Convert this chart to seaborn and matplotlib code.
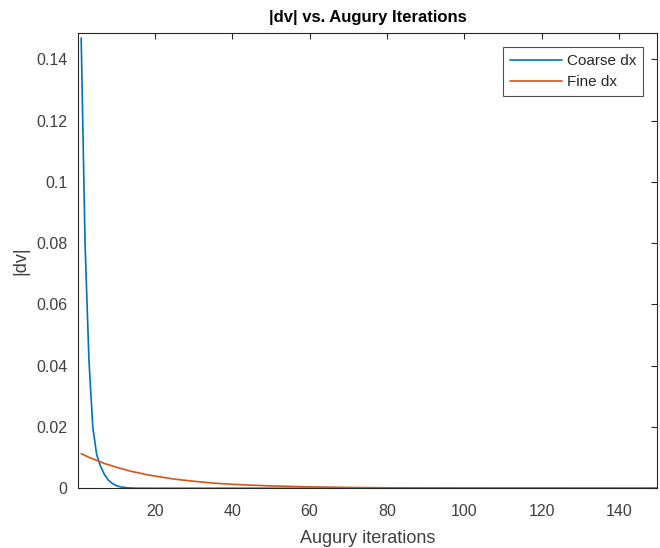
import matplotlib
matplotlib.use("Agg")
import matplotlib.pyplot as plt
import seaborn as sns
import pandas as pd

# Data
coarse_iter = [1, 2, 3, 4, 5, 6, 7, 8, 9, 10, 11, 12, 13, 14, 15, 16, 17, 18, 19, 20,
               30, 40, 50, 60, 70, 80, 90, 100, 110, 120, 130, 140, 150]
coarse_dv = [0.147, 0.080, 0.042, 0.020, 0.011, 0.0072, 0.0045, 0.0027, 0.0016, 0.0009,
             0.0005, 0.0003, 0.00015, 0.00008, 0.00004, 0.00002, 0.00001, 0.000005,
             0.000003, 0.000001, 0.0, 0.0, 0.0, 0.0, 0.0, 0.0, 0.0, 0.0, 0.0, 0.0,
             0.0, 0.0, 0.0]

fine_iter = [1, 2, 3, 4, 5, 6, 7, 8, 9, 10, 12, 14, 16, 18, 20, 25, 30, 35, 40, 45, 50,
             60, 70, 80, 90, 100, 110, 120, 130, 140, 150]
fine_dv = [0.0113, 0.0107, 0.0101, 0.0096, 0.0091, 0.0086, 0.0081, 0.0077, 0.0073, 0.0069,
           0.0062, 0.0055, 0.0050, 0.0044, 0.0040, 0.0030, 0.0023, 0.0017, 0.0013, 0.0010,
           0.00078, 0.00045, 0.00026, 0.00016, 0.00009, 0.00005, 0.00003, 0.00002,
           0.00001, 0.000006, 0.000003]

series_names = ["Coarse dx", "Fine dx"]
colors = ["#0072BD", "#D95319"]
y_ticks = [0, 0.02, 0.04, 0.06, 0.08, 0.1, 0.12, 0.14]
y_tick_labels = ["0", "0.02", "0.04", "0.06", "0.08", "0.1", "0.12", "0.14"]
x_ticks = [20, 40, 60, 80, 100, 120, 140]

df = pd.concat([
    pd.DataFrame({"iter": coarse_iter, "dv": coarse_dv, "series": series_names[0]}),
    pd.DataFrame({"iter": fine_iter, "dv": fine_dv, "series": series_names[1]}),
])

sns.set_style("white")
plt.rcParams["font.family"] = ["Liberation Sans", "DejaVu Sans"]
txt = "#262626"
lbl = "#404040"

fig = plt.figure(figsize=(6.6, 5.48), dpi=100)
ax = fig.add_axes([0.1186, 0.109, 0.995 - 0.1186, 0.939 - 0.109])

sns.lineplot(data=df, x="iter", y="dv", hue="series", hue_order=series_names,
             palette=colors, ax=ax, linewidth=1.2, legend=True)

ax.set_xlim(0.25, 149.7)
ax.set_ylim(0, 0.1485)
ax.set_xticks(x_ticks)
ax.set_xticklabels([str(t) for t in x_ticks])
ax.set_yticks(y_ticks)
ax.set_yticklabels(y_tick_labels)

for s in ax.spines.values():
    s.set_visible(True)
    s.set_color(txt)
    s.set_linewidth(0.8)

ax.tick_params(axis="both", direction="in", length=4, width=0.8, colors=txt,
               labelsize=11.5, top=True, right=True, labelcolor=lbl)
ax.tick_params(axis="x", pad=11)
ax.tick_params(axis="y", pad=8)

ax.set_xlabel("Augury iterations", fontsize=13, color=lbl, labelpad=8)
ax.set_ylabel("|dv|", fontsize=13, color=lbl, labelpad=5)
ax.set_title("|dv| vs. Augury Iterations", fontsize=12, fontweight="bold",
             color="black", pad=8)

handles, labels = ax.get_legend_handles_labels()
leg = ax.legend(handles, labels, loc="upper right", fontsize=11, frameon=True,
                fancybox=False, edgecolor=txt, borderpad=0.45, handlelength=3.4,
                handletextpad=0.3, labelspacing=0.45, borderaxespad=0.9)
leg.get_frame().set_linewidth(0.8)
for t in leg.get_texts():
    t.set_color(txt)

fig.savefig("out.png", dpi=100)
